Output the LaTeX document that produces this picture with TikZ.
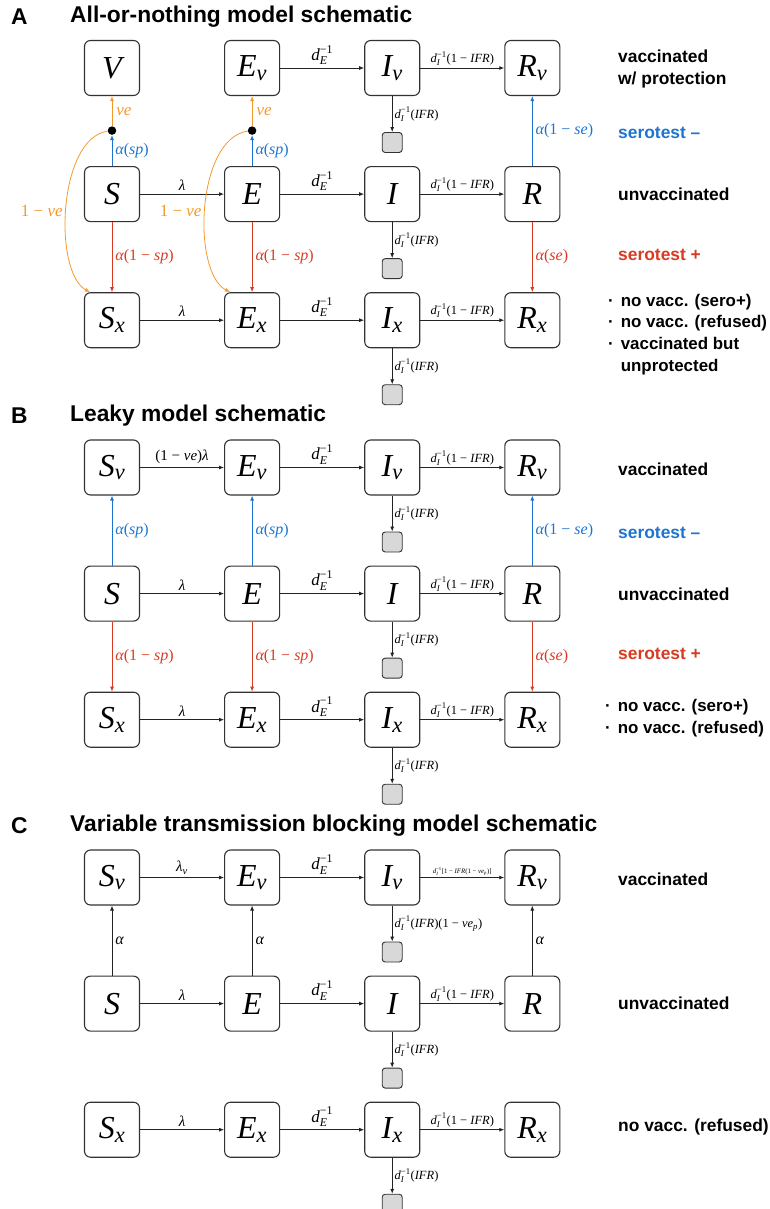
\documentclass[tikz,border=0pt]{standalone}
\usepackage{amsmath}
\usepackage{fontspec}
\setmainfont{Liberation Sans}
\newfontfamily\termsfont{Liberation Serif}
\usetikzlibrary{arrows.meta,positioning}

\definecolor{boxgray}{RGB}{50,50,50}
\definecolor{sinkfill}{RGB}{216,216,216}
\definecolor{flowgray}{RGB}{35,35,35}
\definecolor{seroblue}{RGB}{29,117,207}
\definecolor{serored}{RGB}{216,58,34}
\definecolor{veorange}{RGB}{245,152,42}

% compartment symbol with subscript, rate d^{-1}, upright piece
\newcommand{\comp}[2]{$\text{#1}_{\text{#2}}$}
\newcommand{\dinv}[1]{$\text{d}_{\text{#1}}^{\text{\upshape −1}}$}
\newcommand{\up}[1]{{\upshape #1}}

\begin{document}
\begin{tikzpicture}[x=1pt, y=-1pt,
        compbox/.style={draw=boxgray, line width=1.1pt, rounded corners=6pt,
            minimum width=55pt, minimum height=55pt, inner sep=0pt,
            font=\fontsize{32}{32}\selectfont\termsfont\itshape},
        sinkbox/.style={draw=boxgray, fill=sinkfill, line width=0.9pt, rounded corners=3pt,
            minimum width=20pt, minimum height=20pt, inner sep=0pt},
        junction/.style={circle, fill=black, inner sep=0pt, minimum size=8.5pt},
        flowarr/.style={draw=flowgray, line width=0.8pt, -{Latex[length=5pt,width=4pt]}},
        lamlbl/.style={above=3pt, inner sep=0pt, font=\fontsize{15}{15}\selectfont\termsfont\itshape},
        delbl/.style={above=3pt, inner sep=0pt, font=\fontsize{17}{17}\selectfont\termsfont\itshape},
        irlbl/.style={above=2pt, inner sep=0pt, font=\fontsize{12.5}{12.5}\selectfont\termsfont\itshape},
        sinklbl/.style={right=2pt, inner sep=0pt, font=\fontsize{12.5}{12.5}\selectfont\termsfont\itshape},
        vertlbl/.style={right=3pt, inner sep=0pt, font=\fontsize{16}{16}\selectfont\termsfont\itshape},
        velbl/.style={inner sep=0pt, text=veorange, font=\fontsize{17}{17}\selectfont\termsfont\itshape},
        cohort/.style={anchor=west, inner sep=0pt, align=left,
            font=\fontsize{17.4}{21.7}\selectfont\bfseries},
        bullets/.style={cohort, font=\fontsize{16.9}{21.7}\selectfont\bfseries},
        paneltitle/.style={anchor=west, inner sep=0pt,
            font=\fontsize{22.8}{22.8}\selectfont\bfseries}
    ]
    \useasboundingbox (0,0) rectangle (769,1209);

    % ---------------- A ----------------
    \node[paneltitle] (aTag) at (11,17) {A};
    \node[paneltitle] (aTitle) at (70,17) {All-or-nothing model schematic};

    \node[compbox] (aV) at (112,68) {V};
    \node[compbox, right=84pt of aV] (aEv) {\comp{E}{v}};
    \node[compbox, right=84pt of aEv] (aIv) {\comp{I}{v}};
    \node[compbox, right=84pt of aIv] (aRv) {\comp{R}{v}};
    \node[compbox, below=70pt of aV] (aS) {S};
    \node[compbox, right=84pt of aS] (aE) {E};
    \node[compbox, right=84pt of aE] (aI) {I};
    \node[compbox, right=84pt of aI] (aR) {R};
    \node[compbox, below=70pt of aS] (aSx) {\comp{S}{x}};
    \node[compbox, right=84pt of aSx] (aEx) {\comp{E}{x}};
    \node[compbox, right=84pt of aEx] (aIx) {\comp{I}{x}};
    \node[compbox, right=84pt of aIx] (aRx) {\comp{R}{x}};
    \node[sinkbox, below=36pt of aIv] (aDv) {};
    \node[sinkbox, below=36pt of aI] (aD) {};
    \node[sinkbox, below=36pt of aIx] (aDx) {};
    \node[junction, above=31pt of aS] (aJS) {};
    \node[junction, above=31pt of aE] (aJE) {};

    \draw[flowarr] (aS) -- node[lamlbl] {λ} (aE);
    \draw[flowarr] (aSx) -- node[lamlbl] {λ} (aEx);
    \draw[flowarr] (aEv) -- node[delbl] {\dinv{E}} (aIv);
    \draw[flowarr] (aE) -- node[delbl] {\dinv{E}} (aI);
    \draw[flowarr] (aEx) -- node[delbl] {\dinv{E}} (aIx);
    \draw[flowarr] (aIv) -- node[irlbl] {\dinv{I}\up{(1 −} IFR\up{)}} (aRv);
    \draw[flowarr] (aI) -- node[irlbl] {\dinv{I}\up{(1 −} IFR\up{)}} (aR);
    \draw[flowarr] (aIx) -- node[irlbl] {\dinv{I}\up{(1 −} IFR\up{)}} (aRx);
    \draw[flowarr] (aIv) -- node[sinklbl] {\dinv{I}\up{(}IFR\up{)}} (aDv);
    \draw[flowarr] (aI) -- node[sinklbl] {\dinv{I}\up{(}IFR\up{)}} (aD);
    \draw[flowarr] (aIx) -- node[sinklbl] {\dinv{I}\up{(}IFR\up{)}} (aDx);

    \draw[flowarr, draw=seroblue] (aS) -- node[vertlbl, text=seroblue] {α\up{(}sp\up{)}} (aJS);
    \draw[flowarr, draw=seroblue] (aE) -- node[vertlbl, text=seroblue] {α\up{(}sp\up{)}} (aJE);
    \draw[flowarr, draw=veorange] (aJS) -- node[velbl, right=4pt] {ve} (aV);
    \draw[flowarr, draw=veorange] (aJE) -- node[velbl, right=4pt] {ve} (aEv);
    \draw[flowarr, draw=veorange] (aJS) .. controls (58,138) and (53,272) ..
        node[velbl, pos=0.52, left=3pt] {\up{1 −} ve} ([xshift=6pt]aSx.north west);
    \draw[flowarr, draw=veorange] (aJE) .. controls (196.5,138) and (191.5,272) ..
        node[velbl, pos=0.52, left=3pt] {\up{1 −} ve} ([xshift=6pt]aEx.north west);
    \draw[flowarr, draw=serored] (aS) -- node[vertlbl, text=serored] {α\up{(1 −} sp\up{)}} (aSx);
    \draw[flowarr, draw=serored] (aE) -- node[vertlbl, text=serored] {α\up{(1 −} sp\up{)}} (aEx);
    \draw[flowarr, draw=seroblue] (aR) -- node[vertlbl, text=seroblue] {α\up{(1 −} se\up{)}} (aRv);
    \draw[flowarr, draw=serored] (aR) -- node[vertlbl, text=serored] {α\up{(}se\up{)}} (aRx);

    \node[cohort] (aLv) at (618,69) {vaccinated\\w/ protection};
    \node[cohort, text=seroblue] (aLneg) at (618,133) {serotest --};
    \node[cohort] (aLm) at (618,194) {unvaccinated};
    \node[cohort, text=serored] (aLpos) at (618,255) {serotest +};
    \node[bullets] (aLx) at (608,334.5) {\begin{tabular}{@{}l@{\hskip 7pt}l@{}}
        · & no vacc. (sero+)\\
        · & no vacc. (refused)\\
        · & vaccinated but\\
          & unprotected
    \end{tabular}};

    % ---------------- B ----------------
    \node[paneltitle] (bTag) at (11,415.5) {B};
    \node[paneltitle] (bTitle) at (70,415.5) {Leaky model schematic};

    \node[compbox] (bSv) at (112,467.5) {\comp{S}{v}};
    \node[compbox, right=84pt of bSv] (bEv) {\comp{E}{v}};
    \node[compbox, right=84pt of bEv] (bIv) {\comp{I}{v}};
    \node[compbox, right=84pt of bIv] (bRv) {\comp{R}{v}};
    \node[compbox, below=70pt of bSv] (bS) {S};
    \node[compbox, right=84pt of bS] (bE) {E};
    \node[compbox, right=84pt of bE] (bI) {I};
    \node[compbox, right=84pt of bI] (bR) {R};
    \node[compbox, below=70pt of bS] (bSx) {\comp{S}{x}};
    \node[compbox, right=84pt of bSx] (bEx) {\comp{E}{x}};
    \node[compbox, right=84pt of bEx] (bIx) {\comp{I}{x}};
    \node[compbox, right=84pt of bIx] (bRx) {\comp{R}{x}};
    \node[sinkbox, below=36pt of bIv] (bDv) {};
    \node[sinkbox, below=36pt of bI] (bD) {};
    \node[sinkbox, below=36pt of bIx] (bDx) {};

    \draw[flowarr] (bSv) -- node[lamlbl] {\up{(1 −} ve\up{)}λ} (bEv);
    \draw[flowarr] (bS) -- node[lamlbl] {λ} (bE);
    \draw[flowarr] (bSx) -- node[lamlbl] {λ} (bEx);
    \draw[flowarr] (bEv) -- node[delbl] {\dinv{E}} (bIv);
    \draw[flowarr] (bE) -- node[delbl] {\dinv{E}} (bI);
    \draw[flowarr] (bEx) -- node[delbl] {\dinv{E}} (bIx);
    \draw[flowarr] (bIv) -- node[irlbl] {\dinv{I}\up{(1 −} IFR\up{)}} (bRv);
    \draw[flowarr] (bI) -- node[irlbl] {\dinv{I}\up{(1 −} IFR\up{)}} (bR);
    \draw[flowarr] (bIx) -- node[irlbl] {\dinv{I}\up{(1 −} IFR\up{)}} (bRx);
    \draw[flowarr] (bIv) -- node[sinklbl] {\dinv{I}\up{(}IFR\up{)}} (bDv);
    \draw[flowarr] (bI) -- node[sinklbl] {\dinv{I}\up{(}IFR\up{)}} (bD);
    \draw[flowarr] (bIx) -- node[sinklbl] {\dinv{I}\up{(}IFR\up{)}} (bDx);

    \draw[flowarr, draw=seroblue] (bS) -- node[vertlbl, text=seroblue] {α\up{(}sp\up{)}} (bSv);
    \draw[flowarr, draw=seroblue] (bE) -- node[vertlbl, text=seroblue] {α\up{(}sp\up{)}} (bEv);
    \draw[flowarr, draw=serored] (bS) -- node[vertlbl, text=serored] {α\up{(1 −} sp\up{)}} (bSx);
    \draw[flowarr, draw=serored] (bE) -- node[vertlbl, text=serored] {α\up{(1 −} sp\up{)}} (bEx);
    \draw[flowarr, draw=seroblue] (bR) -- node[vertlbl, text=seroblue] {α\up{(1 −} se\up{)}} (bRv);
    \draw[flowarr, draw=serored] (bR) -- node[vertlbl, text=serored] {α\up{(}se\up{)}} (bRx);

    \node[cohort] (bLv) at (618,469) {vaccinated};
    \node[cohort, text=seroblue] (bLneg) at (618,533) {serotest --};
    \node[cohort] (bLm) at (618,594) {unvaccinated};
    \node[cohort, text=serored] (bLpos) at (618,654) {serotest +};
    \node[bullets] (bLx) at (605,718.5) {\begin{tabular}{@{}l@{\hskip 7pt}l@{}}
        · & no vacc. (sero+)\\
        · & no vacc. (refused)
    \end{tabular}};

    % ---------------- C ----------------
    \node[paneltitle] (cTag) at (11,825.5) {C};
    \node[paneltitle] (cTitle) at (70,825.5) {Variable transmission blocking model schematic};

    \node[compbox] (cSv) at (112,877.5) {\comp{S}{v}};
    \node[compbox, right=84pt of cSv] (cEv) {\comp{E}{v}};
    \node[compbox, right=84pt of cEv] (cIv) {\comp{I}{v}};
    \node[compbox, right=84pt of cIv] (cRv) {\comp{R}{v}};
    \node[compbox, below=70pt of cSv] (cS) {S};
    \node[compbox, right=84pt of cS] (cE) {E};
    \node[compbox, right=84pt of cE] (cI) {I};
    \node[compbox, right=84pt of cI] (cR) {R};
    \node[compbox, below=70pt of cS] (cSx) {\comp{S}{x}};
    \node[compbox, right=84pt of cSx] (cEx) {\comp{E}{x}};
    \node[compbox, right=84pt of cEx] (cIx) {\comp{I}{x}};
    \node[compbox, right=84pt of cIx] (cRx) {\comp{R}{x}};
    \node[sinkbox, below=36pt of cIv] (cDv) {};
    \node[sinkbox, below=36pt of cI] (cD) {};
    \node[sinkbox, below=36pt of cIx] (cDx) {};

    \draw[flowarr] (cSv) -- node[lamlbl] {\comp{λ}{v}} (cEv);
    \draw[flowarr] (cS) -- node[lamlbl] {λ} (cE);
    \draw[flowarr] (cSx) -- node[lamlbl] {λ} (cEx);
    \draw[flowarr] (cEv) -- node[delbl] {\dinv{E}} (cIv);
    \draw[flowarr] (cE) -- node[delbl] {\dinv{E}} (cI);
    \draw[flowarr] (cEx) -- node[delbl] {\dinv{E}} (cIx);
    \draw[flowarr] (cIv) -- node[irlbl, font=\fontsize{6.8}{6.8}\selectfont\termsfont\itshape]
        {\dinv{I}\up{[1 −} IFR\up{(1 −} \comp{ve}{p}\up{)]}} (cRv);
    \draw[flowarr] (cI) -- node[irlbl] {\dinv{I}\up{(1 −} IFR\up{)}} (cR);
    \draw[flowarr] (cIx) -- node[irlbl] {\dinv{I}\up{(1 −} IFR\up{)}} (cRx);
    \draw[flowarr] (cIv) -- node[sinklbl] {\dinv{I}\up{(}IFR\up{)(1 −} \comp{ve}{p}\up{)}} (cDv);
    \draw[flowarr] (cI) -- node[sinklbl] {\dinv{I}\up{(}IFR\up{)}} (cD);
    \draw[flowarr] (cIx) -- node[sinklbl] {\dinv{I}\up{(}IFR\up{)}} (cDx);

    \draw[flowarr] (cS) -- node[vertlbl] {α} (cSv);
    \draw[flowarr] (cE) -- node[vertlbl] {α} (cEv);
    \draw[flowarr] (cR) -- node[vertlbl] {α} (cRv);

    \node[cohort] (cLv) at (618,879) {vaccinated};
    \node[cohort] (cLm) at (618,1003) {unvaccinated};
    \node[cohort] (cLx) at (618,1127) {no vacc. (refused)};
\end{tikzpicture}
\end{document}
